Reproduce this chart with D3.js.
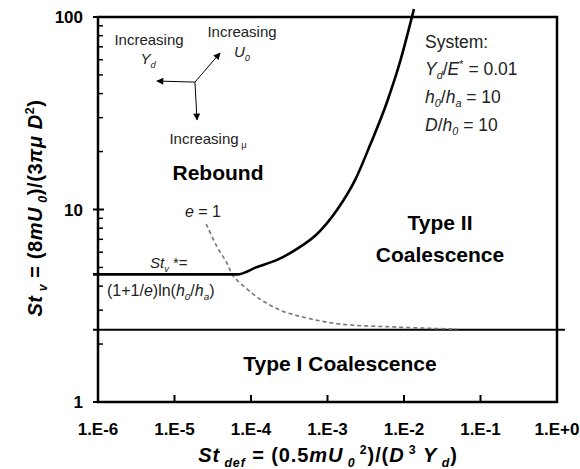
<!DOCTYPE html>
<html>
<head>
<meta charset="utf-8">
<script src="https://cdn.jsdelivr.net/npm/d3@7"></script>
<style>
  body { margin: 0; background: #fff; }
  svg { font-family: Arial, "Liberation Sans", Helvetica, sans-serif; }
</style>
</head>
<body>
<div id="chart"></div>
<script>
// regime map data
var xTicks = [1e-6, 1e-5, 1e-4, 1e-3, 1e-2, 1e-1, 1];
var xTickLabels = ["1.E-6", "1.E-5", "1.E-4", "1.E-3", "1.E-2", "1.E-1", "1.E+0"];
var yTicks = [1, 10, 100];
var yTickLabels = ["1", "10", "100"];
var yMinor = [2, 3, 4, 5, 6, 7, 8, 9, 20, 30, 40, 50, 60, 70, 80, 90];

// rebound / type II boundary (flat at St_v* then rising)
var boundX = [8.6e-7, 6.6e-5, 1.2e-4, 2.19e-4, 3.99e-4, 7.3e-4, 1.33e-3, 2.29e-3, 3.6e-3, 6.0e-3, 8.87e-3, 1.27e-2, 1.35e-2];
var boundY = [4.6, 4.6, 5.03, 5.47, 6.24, 7.46, 9.94, 14.2, 21.6, 36.2, 58.4, 100, 110];

// e = 1 dashed curve
var e1X = [2.6e-5, 3.6e-5, 4.85e-5, 5.65e-5, 6.56e-5, 1.2e-4, 2.4e-4, 5.4e-4, 1.46e-3, 8.1e-3, 4.9e-2];
var e1Y = [8.4, 6.4, 5.27, 4.6, 4.3, 3.51, 3.0, 2.73, 2.54, 2.45, 2.39];

// type I coalescence threshold
var typeIX = [8.6e-7, 1.27];
var typeIY = [2.37, 2.37];

var width = 580, height = 469;
var margin = {left: 98, top: 17, right: 23, bottom: 67};
var w = width - margin.left - margin.right;
var h = height - margin.top - margin.bottom;

var svg = d3.select("#chart").append("svg")
  .attr("width", width)
  .attr("height", height);

var g = svg.append("g")
  .attr("transform", "translate(" + margin.left + "," + margin.top + ")");

var x = d3.scaleLog().domain([1e-6, 1]).range([0, w]);
var y = d3.scaleLog().domain([1, 100]).range([h, 0]);

svg.append("defs").append("marker")
  .attr("id", "head")
  .attr("viewBox", "0 0 10 10")
  .attr("refX", 9).attr("refY", 5)
  .attr("markerWidth", 10).attr("markerHeight", 7)
  .attr("markerUnits", "userSpaceOnUse")
  .attr("orient", "auto")
  .append("path").attr("d", "M0,0 L10,5 L0,10 Z").attr("fill", "#000");

// rich text helper: segments [text, kind]
function rich(sel, segs, size) {
  var shift = 0;
  segs.forEach(function(s) {
    var t = s[0], k = s[1] || "n";
    var ts = sel.append("tspan").text(t);
    var target = 0;
    if (k.indexOf("sub") >= 0) target = size * 0.25;
    if (k.indexOf("sup") >= 0) target = -size * 0.4;
    ts.attr("dy", target - shift);
    shift = target;
    if (target !== 0) ts.style("font-size", (size * 0.62) + "px");
    if (k.indexOf("i") === 0 || k.indexOf("isub") >= 0) ts.style("font-style", "italic");
  });
  if (shift !== 0) sel.append("tspan").attr("dy", -shift).text("");
}

// frame
g.append("rect")
  .attr("width", w).attr("height", h)
  .attr("fill", "none").attr("stroke", "#000").attr("stroke-width", 2.5);

// y minor ticks (inside)
g.selectAll(".ymin").data(yMinor).enter().append("line")
  .attr("x1", 0).attr("x2", 5)
  .attr("y1", function(d) { return y(d); }).attr("y2", function(d) { return y(d); })
  .attr("stroke", "#000").attr("stroke-width", 1.5);
g.selectAll(".ymaj").data(yTicks).enter().append("line")
  .attr("x1", -5).attr("x2", 6)
  .attr("y1", function(d) { return y(d); }).attr("y2", function(d) { return y(d); })
  .attr("stroke", "#000").attr("stroke-width", 2);
g.selectAll(".ylab").data(yTicks).enter().append("text")
  .attr("x", -15).attr("y", function(d) { return y(d) + 6; })
  .attr("text-anchor", "end")
  .style("font-size", "17px").style("font-weight", "bold")
  .text(function(d, i) { return yTickLabels[i]; });

// x ticks (inside)
g.selectAll(".xt").data(xTicks).enter().append("line")
  .attr("x1", function(d) { return x(d); }).attr("x2", function(d) { return x(d); })
  .attr("y1", h).attr("y2", h - 7)
  .attr("stroke", "#000").attr("stroke-width", 2);
g.selectAll(".xlab").data(xTicks).enter().append("text")
  .attr("x", function(d) { return x(d); }).attr("y", h + 33)
  .attr("text-anchor", "middle")
  .style("font-size", "17px").style("font-weight", "bold")
  .text(function(d, i) { return xTickLabels[i]; });

var line = d3.line()
  .x(function(d) { return x(d[0]); })
  .y(function(d) { return y(d[1]); });

g.append("path")
  .datum(typeIX.map(function(v, i) { return [v, typeIY[i]]; }))
  .attr("d", line)
  .attr("fill", "none").attr("stroke", "#000").attr("stroke-width", 2);

g.append("path")
  .datum(e1X.map(function(v, i) { return [v, e1Y[i]]; }))
  .attr("d", line.curve(d3.curveCatmullRom.alpha(0.5)))
  .attr("fill", "none").attr("stroke", "#777").attr("stroke-width", 1.6)
  .attr("stroke-dasharray", "4,3");

g.append("path")
  .datum(boundX.map(function(v, i) { return [v, boundY[i]]; }))
  .attr("d", line.curve(d3.curveMonotoneX))
  .attr("fill", "none").attr("stroke", "#000").attr("stroke-width", 2.6);

// direction arrows
var hub = [1.85e-5, 45.9];
var tips = [[5.9e-6, 46.5], [3.94e-5, 65], [1.97e-5, 29.2]];
g.selectAll(".arr").data(tips).enter().append("line")
  .attr("x1", x(hub[0])).attr("y1", y(hub[1]))
  .attr("x2", function(d) { return x(d[0]); }).attr("y2", function(d) { return y(d[1]); })
  .attr("stroke", "#000").attr("stroke-width", 1)
  .attr("marker-end", "url(#head)");

function label(px, py, segs, size, opts) {
  opts = opts || {};
  var t = g.append("text")
    .attr("x", px).attr("y", py)
    .attr("text-anchor", opts.anchor || "start")
    .style("font-size", size + "px")
    .style("font-weight", opts.bold ? "bold" : "normal")
    .attr("fill", opts.fill || "#000");
  rich(t, segs, size);
  return t;
}

var ox = margin.left, oy = margin.top;
label(149 - ox, 45 - oy, [["Increasing"]], 15, {anchor: "middle", fill: "#222"});
label(148 - ox, 64 - oy, [["Y", "i"], ["d", "isub"]], 15, {anchor: "middle", fill: "#222"});
label(242 - ox, 37 - oy, [["Increasing"]], 15, {anchor: "middle", fill: "#222"});
label(242 - ox, 57 - oy, [["U", "i"], ["0", "isub"]], 15, {anchor: "middle", fill: "#222"});
label(208 - ox, 144 - oy, [["Increasing"], [" μ", "sub"]], 15, {anchor: "middle", fill: "#222"});

label(218 - ox, 180 - oy, [["Rebound"]], 21, {anchor: "middle", bold: true});
label(203 - ox, 217 - oy, [["e", "i"], [" = 1"]], 16, {anchor: "middle", fill: "#222"});
label(150 - ox, 268 - oy, [["St", "i"], ["v", "isub"], [" *="]], 15, {fill: "#222"});
label(107 - ox, 296 - oy, [["(1+1/"], ["e", "i"], [")ln("], ["h", "i"], ["0", "isub"], ["/"], ["h", "i"], ["a", "isub"], [")"]], 16, {fill: "#222"});

label(425 - ox, 48 - oy, [["System:"]], 17.5, {fill: "#222"});
label(425 - ox, 75 - oy, [["Y", "i"], ["d", "isub"], ["/"], ["E", "i"], ["*", "sup"], [" = 0.01"]], 17.5, {fill: "#222"});
label(425 - ox, 103 - oy, [["h", "i"], ["0", "isub"], ["/"], ["h", "i"], ["a", "isub"], [" = 10"]], 17.5, {fill: "#222"});
label(425 - ox, 131 - oy, [["D", "i"], ["/"], ["h", "i"], ["0", "isub"], [" = 10"]], 17.5, {fill: "#222"});

label(440 - ox, 230 - oy, [["Type II"]], 21, {anchor: "middle", bold: true});
label(440 - ox, 262 - oy, [["Coalescence"]], 21, {anchor: "middle", bold: true});
label(340 - ox, 371 - oy, [["Type I Coalescence"]], 21, {anchor: "middle", bold: true});

// axis titles
var xt = svg.append("text")
  .attr("x", 328).attr("y", 462)
  .attr("text-anchor", "middle")
  .style("font-size", "20px").style("font-weight", "bold")
  .style("letter-spacing", "0.9px");
rich(xt, [["St", "i"], [" def", "isub"], [" = (0.5"], ["mU", "i"], [" 0", "isub"], [" 2", "sup"], [")/("], ["D", "i"], [" 3", "sup"], [" "], ["Y", "i"], [" d", "isub"], [")"]], 20);

var yt = svg.append("text")
  .attr("transform", "translate(42,208) rotate(-90)")
  .attr("text-anchor", "middle")
  .style("font-size", "20px").style("font-weight", "bold")
  .style("letter-spacing", "0.6px");
rich(yt, [["St", "i"], [" v", "isub"], [" = (8"], ["mU", "i"], [" 0", "isub"], [")/(3"], ["πμ", "i"], [" D", "i"], ["2", "sup"], [")"]], 20);
</script>
</body>
</html>
